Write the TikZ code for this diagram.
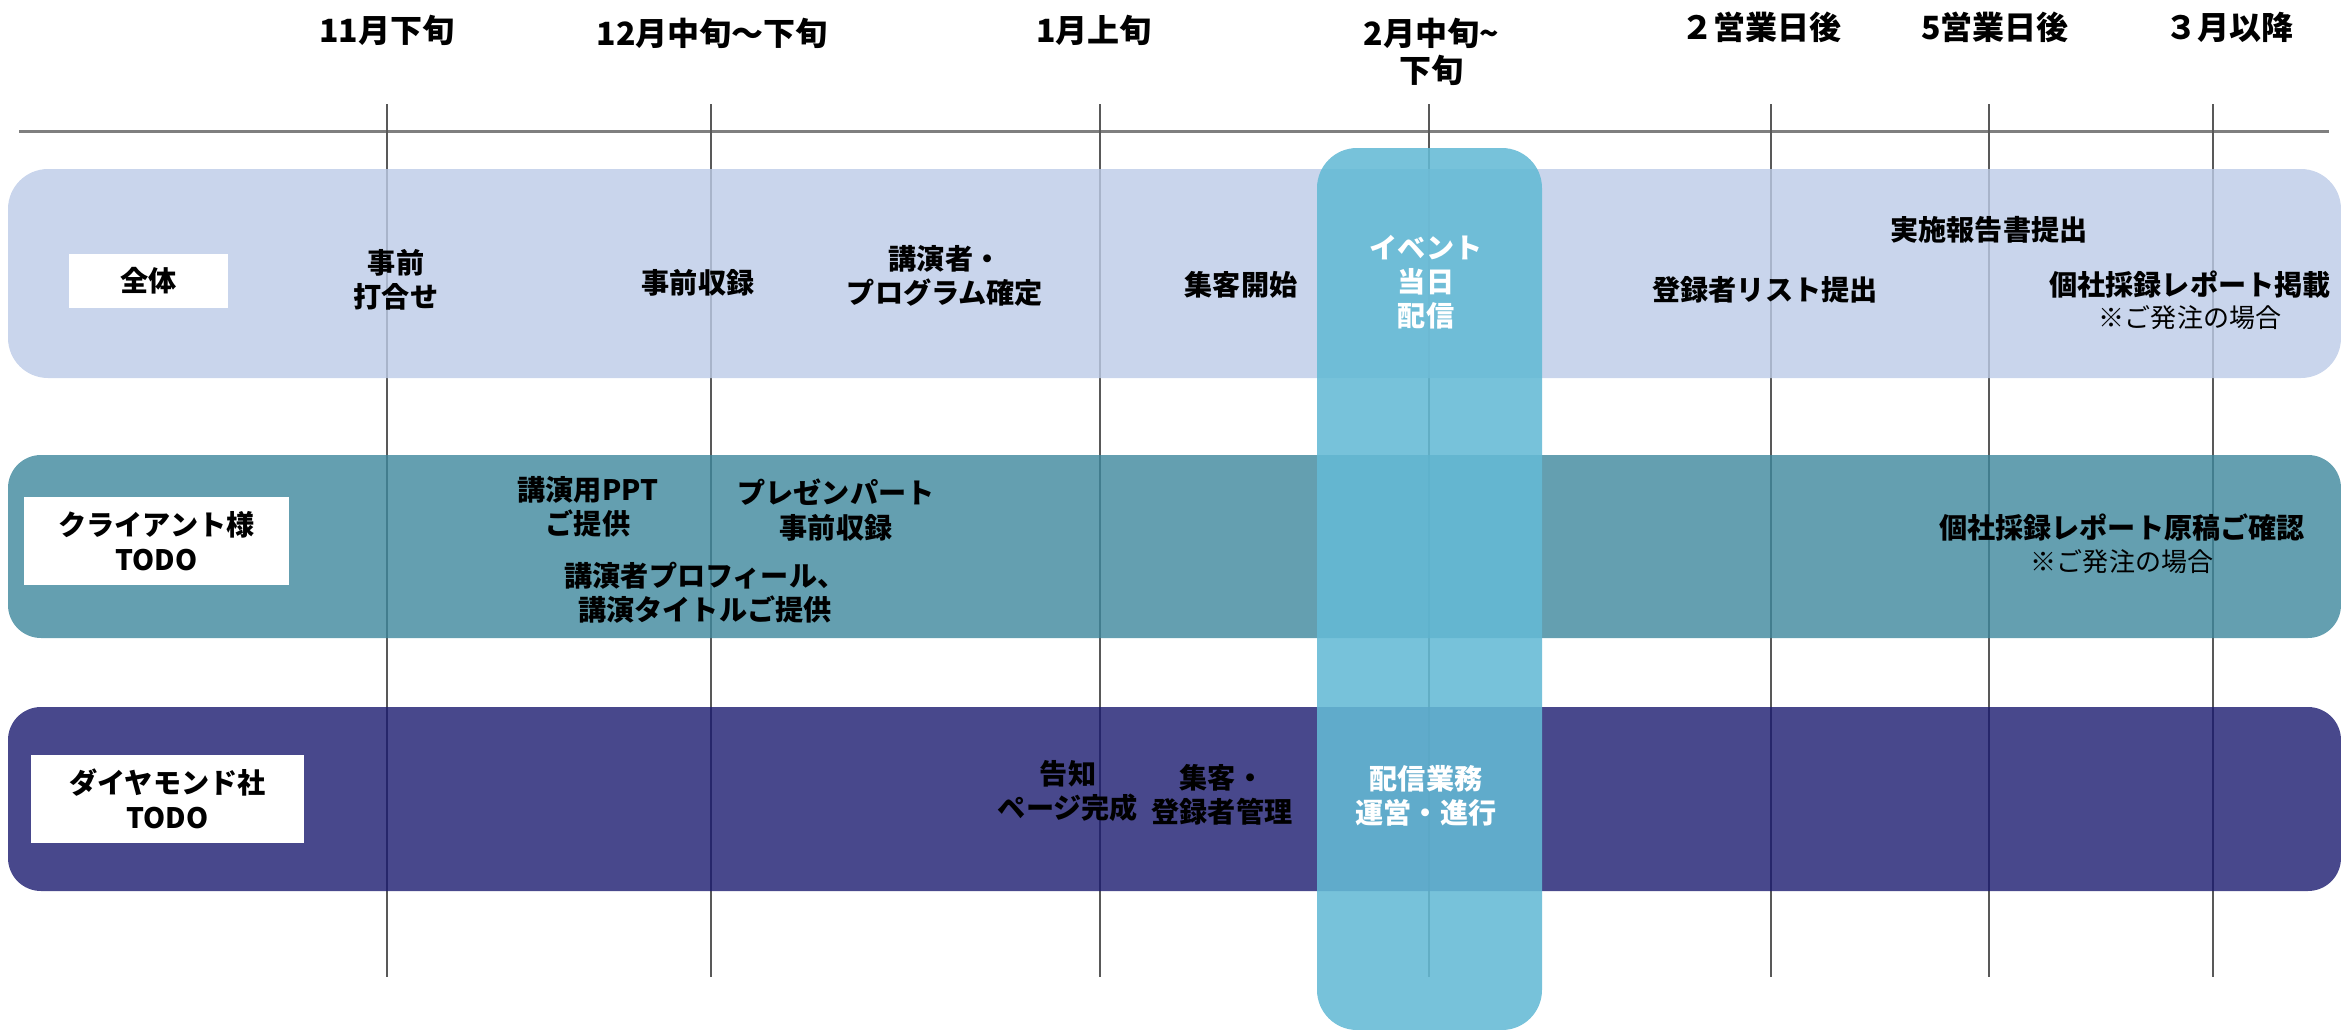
\documentclass[tikz,border=0pt]{standalone}
\usepackage{fontspec}
\setmainfont{Noto Sans CJK JP}
\definecolor{allband}{HTML}{BCCBE7}
\definecolor{cliband}{HTML}{3D879C}
\definecolor{diaband}{HTML}{1A1A6F}
\definecolor{evband}{HTML}{64BAD5}
\definecolor{vline}{HTML}{595959}
\definecolor{hline}{HTML}{7F7F7F}
\tikzset{
  txt/.style={font=\fontsize{8}{9.7}\selectfont\bfseries, align=center, inner sep=0pt, text=black},
  wtxt/.style={txt, text=white},
  hd/.style={font=\fontsize{9.1}{10.5}\selectfont\bfseries, align=center, inner sep=0pt},
  note/.style={font=\fontsize{7.4}{9}\selectfont, inner sep=0pt},
  lblbox/.style={fill=white, inner sep=0pt, align=center, font=\fontsize{8}{10}\selectfont\bfseries},
  band/.style={fill opacity=0.8},
}
\begin{document}
\begin{tikzpicture}[x=0.01cm, y=-0.01cm]
\useasboundingbox (0,0) rectangle (2341,1030);
% headings
\node[hd] (h1) at (387,30) {11月下旬};
\node[hd] (h2) at (712,33) {12月中旬～下旬};
\node[hd] (h3) at (1094,30) {1月上旬};
\node[hd] (h4) at (1431,52) {2月中旬\textasciitilde\\下旬};
\node[hd] (h5) at (1761,27) {２営業日後};
\node[hd] (h6) at (1995,27) {5営業日後};
\node[hd] (h7) at (2229,27) {３月以降};
% axis
\coordinate (axl) at (19,131);
\coordinate (axr) at (2329,131);
\draw[hline, line width=0.03cm] (axl) -- (axr);
\foreach \i/\x in {1/387,2/711,3/1100,4/1429,5/1771,6/1989,7/2213}{
  \coordinate (t\i) at (\x,104);
  \coordinate (b\i) at (\x,977);
  \draw[vline, line width=0.02cm] (t\i) -- (b\i);
}
% bands
\fill[allband, band, rounded corners=0.4cm] (8,169) rectangle (2341,378);
\fill[cliband, band, rounded corners=0.33cm] (8,455) rectangle (2341,638);
\fill[diaband, band, rounded corners=0.33cm] (8,707) rectangle (2341,891);
% label boxes
\node[lblbox, minimum width=1.59cm, minimum height=0.54cm] (lall) at (148.5,281) {全体};
\node[lblbox, minimum width=2.65cm, minimum height=0.88cm] (lcli) at (156.5,541) {クライアント様\\TODO};
\node[lblbox, minimum width=2.73cm, minimum height=0.88cm] (ldia) at (167.5,799) {ダイヤモンド社\\TODO};
% event band
\fill[evband, fill opacity=0.88, rounded corners=0.4cm] (1317,148) rectangle (1542,1030);
% all-row texts
\node[txt] (a1) at (396,280) {事前\\打合せ};
\node[txt] (a2) at (698,283) {事前収録};
\node[txt] (a3) at (945,276) {講演者・\\プログラム確定};
\node[txt] (a4) at (1241,285) {集客開始};
\node[wtxt] (a5) at (1426,282) {イベント\\当日\\配信};
\node[txt] (a6) at (1765,290) {登録者リスト提出};
\node[txt] (a7) at (1989,230) {実施報告書提出};
\node[txt] (a8) at (2190,285) {個社採録レポート掲載};
\node[note] (a9) at (2190,318) {※ご発注の場合};
% client-row texts
\node[txt] (c1) at (588,507) {講演用PPT\\ご提供};
\node[txt] (c2) at (836,510) {プレゼンパート\\事前収録};
\node[txt] (c3) at (705,593) {講演者プロフィール、\\講演タイトルご提供};
\node[txt] (c4) at (2122,528) {個社採録レポート原稿ご確認};
\node[note] (c5) at (2122,562) {※ご発注の場合};
% diamond-row texts
\node[txt] (d1) at (1068,791) {告知\\ページ完成};
\node[txt] (d2) at (1222,795) {集客・\\登録者管理};
\node[wtxt] (d3) at (1426,796) {配信業務\\運営・進行};
\end{tikzpicture}
\end{document}
